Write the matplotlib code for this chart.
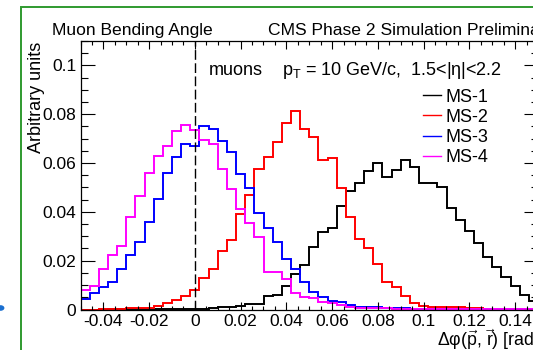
import numpy as np
import matplotlib
matplotlib.use("Agg")
import matplotlib.pyplot as plt
from matplotlib.lines import Line2D
from matplotlib.patches import Rectangle, Circle

plt.rcParams['font.family'] = ['Liberation Sans', 'DejaVu Sans']
plt.rcParams['mathtext.fontset'] = 'custom'
plt.rcParams['mathtext.rm'] = 'Liberation Sans'
plt.rcParams['mathtext.it'] = 'Liberation Sans'
plt.rcParams['mathtext.bf'] = 'Liberation Sans:bold'
plt.rcParams['axes.unicode_minus'] = False

# ---- data ----
x_min, x_max, n_bins = -0.05, 0.15, 50
series_labels = ["MS-1", "MS-2", "MS-3", "MS-4"]
series_colors = ["#000000", "#ff0000", "#0000ff", "#ff00ff"]

ms1 = [0.0, 0.0, 0.0, 0.0001, 0.0002, 0.0002, 0.0003, 0.0003, 0.0003, 0.0004,
       0.0004, 0.0004, 0.0004, 0.0004, 0.0005, 0.0009, 0.0009, 0.0014, 0.0022, 0.0024,
       0.0055, 0.0059, 0.0096, 0.0145, 0.0182, 0.0257, 0.0318, 0.0335, 0.0423, 0.0486,
       0.0519, 0.0568, 0.0602, 0.0541, 0.0571, 0.0611, 0.0584, 0.0520, 0.0519, 0.0500,
       0.0416, 0.0367, 0.0322, 0.0273, 0.0215, 0.0175, 0.0135, 0.0095, 0.0060, 0.0035]
ms2 = [0.0, 0.0, 0.0001, 0.0002, 0.0004, 0.0006, 0.0005, 0.0008, 0.0015, 0.0025,
       0.0038, 0.0054, 0.0078, 0.0130, 0.0164, 0.0238, 0.0284, 0.0393, 0.0470, 0.0577,
       0.0625, 0.0686, 0.0763, 0.0814, 0.0740, 0.0707, 0.0614, 0.0621, 0.0496, 0.0380,
       0.0290, 0.0250, 0.0186, 0.0111, 0.0092, 0.0057, 0.0025, 0.0013, 0.0011, 0.0010,
       0.0010, 0.0010, 0.0008, 0.0006, 0.0004, 0.0003, 0.0003, 0.0002, 0.0002, 0.0001]
ms3 = [0.0042, 0.0066, 0.0091, 0.0114, 0.0167, 0.0222, 0.0277, 0.0357, 0.0452, 0.0560,
       0.0625, 0.0678, 0.0670, 0.0753, 0.0738, 0.0690, 0.0645, 0.0557, 0.0498, 0.0397,
       0.0334, 0.0277, 0.0207, 0.0166, 0.0114, 0.0072, 0.0053, 0.0034, 0.0031, 0.0018,
       0.0012, 0.0010, 0.0010, 0.0007, 0.0005, 0.0005, 0.0004, 0.0004, 0.0003, 0.0003,
       0.0002, 0.0002, 0.0002, 0.0002, 0.0001, 0.0001, 0.0001, 0.0001, 0.0001, 0.0001]
ms4 = [0.0080, 0.0097, 0.0164, 0.0222, 0.0261, 0.0381, 0.0467, 0.0560, 0.0629, 0.0669,
       0.0731, 0.0756, 0.0735, 0.0693, 0.0680, 0.0577, 0.0492, 0.0410, 0.0355, 0.0298,
       0.0155, 0.0153, 0.0125, 0.0068, 0.0050, 0.0048, 0.0030, 0.0027, 0.0018, 0.0012,
       0.0008, 0.0007, 0.0006, 0.0005, 0.0004, 0.0004, 0.0003, 0.0003, 0.0003, 0.0002,
       0.0002, 0.0002, 0.0002, 0.0001, 0.0001, 0.0001, 0.0001, 0.0001, 0.0001, 0.0001]

x_ticks = [-0.04, -0.02, 0.0, 0.02, 0.04, 0.06, 0.08, 0.10, 0.12, 0.14]
x_tick_labels = ["-0.04", "-0.02", "0", "0.02", "0.04", "0.06", "0.08", "0.1", "0.12", "0.14"]
y_ticks = [0.0, 0.02, 0.04, 0.06, 0.08, 0.10]
y_tick_labels = ["0", "0.02", "0.04", "0.06", "0.08", "0.1"]

# ---- figure ----
W, H = 533, 350
fig = plt.figure(figsize=(W / 100, H / 100), dpi=100)

def fx(px):
    return px / W

def fy(py):
    return 1 - py / H

ax_l, ax_r, ax_t, ax_b = 80.5, 538.0, 41.0, 309.5
ax = fig.add_axes([fx(ax_l), fy(ax_b), fx(ax_r) - fx(ax_l), fy(ax_t) - fy(ax_b)])

edges = np.linspace(x_min, x_max, n_bins + 1)
handles = []
for vals, col, lab in zip([ms1, ms2, ms3, ms4], series_colors, series_labels):
    ax.stairs(vals, edges, baseline=None, color=col, lw=1.4)
    handles.append(Line2D([], [], color=col, lw=1.0, label=lab))

ax.axvline(0.0, color="black", lw=1.0, linestyle=(0, (7, 2.5)))

ax.set_xlim(x_min, x_max)
ax.set_ylim(0, 0.11)
ax.set_xticks(x_ticks)
ax.set_xticklabels(x_tick_labels)
ax.set_yticks(y_ticks)
ax.set_yticklabels(y_tick_labels)
ax.set_xticks(np.arange(-0.05, 0.1501, 0.005), minor=True)
ax.set_yticks(np.arange(0, 0.1101, 0.005), minor=True)
ax.tick_params(axis="both", which="both", direction="in", top=True, right=True,
               labelsize=12.5, width=0.8, color="black")
ax.tick_params(axis="x", which="major", length=5.8, pad=3.0)
ax.tick_params(axis="x", which="minor", length=2.9)
ax.tick_params(axis="y", which="major", length=10, pad=3)
ax.tick_params(axis="y", which="minor", length=5)
for s in ax.spines.values():
    s.set_linewidth(0.9)

# texts
fs = 13
fs_top = 12.6
fig.text(fx(52), fy(35), "Muon Bending Angle", fontsize=fs_top, va="baseline", ha="left")
fig.text(fx(268), fy(35), "CMS Phase 2 Simulation Preliminary", fontsize=fs_top,
         va="baseline", ha="left")
fig.text(fx(209), fy(75), "muons", fontsize=fs, va="baseline", ha="left")
fig.text(fx(281.5), fy(75), r"p$_{\mathrm{T}}$ = 10 GeV/c,  1.5<|η|<2.2", fontsize=fs,
         va="baseline", ha="left")
fig.text(fx(28), fy(42), "Arbitrary units", fontsize=fs, rotation=90,
         va="top", ha="left")
fig.text(fx(437), fy(345.5), r"Δφ($\vec{\mathrm{p}}$, $\vec{\mathrm{r}}$) [rad]",
         fontsize=12.8, va="baseline", ha="left")

leg = ax.legend(handles=handles, loc="upper left", frameon=False,
                bbox_to_anchor=(fx(423), fy(88.5)), bbox_transform=fig.transFigure,
                fontsize=fs, handlelength=1.0, handletextpad=0.22,
                labelspacing=0.18, borderpad=0, borderaxespad=0)

# outer green frame of the screenshot
fig.add_artist(Rectangle((fx(20.5), -0.1), 2.0, fy(7) + 0.1, transform=fig.transFigure,
                         fill=False, edgecolor="#2f9a2f", lw=1.4))
fig.add_artist(Circle((fx(0.5), fy(308)), 0.006, transform=fig.transFigure,
                      color="#1a6fd0"))

fig.savefig("out.png", dpi=100)
